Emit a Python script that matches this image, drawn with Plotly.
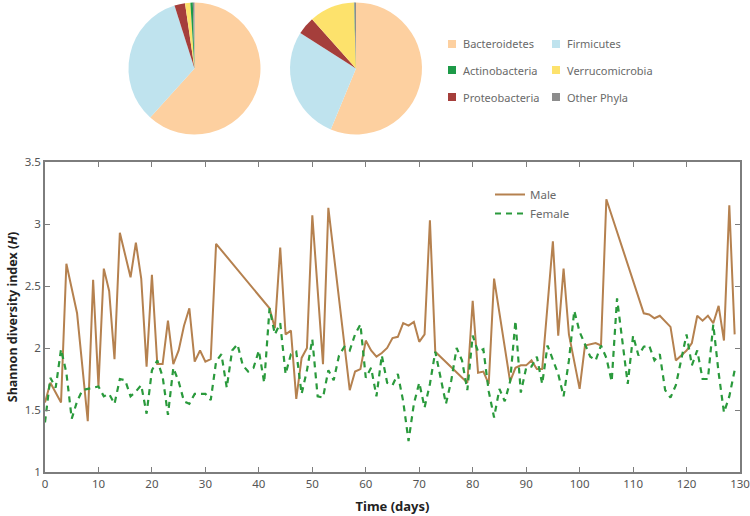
import plotly.graph_objects as go

# ---------------- data ----------------
phyla = ["Bacteroidetes", "Firmicutes", "Proteobacteria", "Verrucomicrobia", "Actinobacteria", "Other Phyla"]
phyla_colors = ["#fdd0a0", "#bfe3ee", "#a53e3b", "#fde26c", "#1d9a48", "#8c8c8c"]
pie_left = [61.7, 33.4, 2.6, 1.3, 0.6, 0.4]
pie_right = [56.3, 27.8, 4.4, 11.1, 0.1, 0.4]

male_days = [0, 1, 3, 4, 5, 6, 8, 9, 10, 11, 12, 13, 14, 16, 17, 18, 19, 20, 21, 22, 23, 24, 25, 26,
             27, 28, 29, 30, 31, 32, 42, 43, 44, 45, 46, 47, 48, 49, 50, 52, 53, 57, 58, 59, 60, 61,
             62, 63, 64, 65, 66, 67, 68, 69, 70, 71, 72, 73, 79, 80, 81, 82, 83, 84, 87, 88, 89, 90,
             91, 92, 93, 95, 96, 97, 98, 100, 101, 103, 104, 105, 112, 113, 114, 115, 117, 118, 120,
             121, 122, 123, 124, 125, 126, 127, 128, 129]
male_h = [1.56, 1.72, 1.56, 2.68, 2.48, 2.28, 1.41, 2.55, 1.69, 2.64, 2.46, 1.91, 2.93, 2.57, 2.85,
          2.56, 1.85, 2.59, 1.87, 1.87, 2.22, 1.87, 1.98, 2.18, 2.32, 1.89, 1.98, 1.89, 1.91, 2.84,
          2.32, 2.16, 2.81, 2.11, 2.14, 1.59, 1.92, 2.00, 3.07, 1.87, 3.13, 1.66, 1.81, 1.83, 2.06,
          1.98, 1.93, 1.96, 2.00, 2.08, 2.09, 2.20, 2.18, 2.21, 2.05, 2.11, 3.03, 1.97, 1.72, 2.38,
          1.80, 1.81, 1.71, 2.56, 1.73, 1.84, 1.86, 1.86, 1.90, 1.83, 1.83, 2.86, 2.10, 2.64, 2.11,
          1.67, 2.02, 2.04, 2.02, 3.20, 2.28, 2.27, 2.24, 2.26, 2.17, 1.90, 1.98, 2.04, 2.26, 2.22,
          2.26, 2.20, 2.34, 2.06, 3.15, 2.11]

female_days = list(range(0, 130))
female_h = [1.40, 1.76, 1.68, 1.99, 1.80, 1.43, 1.57, 1.66, 1.67, 1.68,
            1.69, 1.61, 1.63, 1.55, 1.75, 1.74, 1.61, 1.65, 1.70, 1.47,
            1.82, 1.90, 1.77, 1.46, 1.84, 1.73, 1.57, 1.55, 1.63, 1.63,
            1.63, 1.58, 1.89, 1.95, 1.68, 1.98, 2.03, 1.86, 1.81, 1.84,
            1.98, 1.72, 2.32, 2.11, 2.20, 1.79, 1.95, 1.97, 1.63, 1.82,
            2.07, 1.61, 1.60, 1.82, 1.74, 1.94, 2.01, 1.98, 2.11, 2.19,
            1.76, 1.84, 1.61, 1.94, 1.72, 1.70, 1.79, 1.57, 1.25, 1.55,
            1.72, 1.52, 1.71, 1.97, 1.75, 1.55, 1.74, 2.00, 1.90, 1.66,
            2.10, 1.97, 1.99, 1.65, 1.44, 1.67, 1.57, 1.73, 2.22, 1.64,
            1.84, 1.85, 1.93, 1.71, 2.02, 1.91, 1.79, 1.61, 1.90, 2.30,
            2.13, 2.03, 1.93, 1.90, 2.02, 1.92, 1.73, 2.40, 2.06, 1.71,
            2.10, 1.94, 2.01, 2.02, 1.90, 1.95, 1.66, 1.60, 1.70, 1.92,
            2.11, 1.86, 1.98, 1.75, 1.75, 2.19, 1.80, 1.48, 1.61, 1.82]

x_ticks = list(range(0, 131, 10))
y_ticks = [1, 1.5, 2, 2.5, 3, 3.5]
y_tick_text = ["1", "1.5", "2", "2.5", "3", "3.5"]

# ---------------- layout helpers ----------------
W, H = 750, 516
ML, MR, MT, MB = 45, 10, 0, 44
PW, PH = W - ML - MR, H - MT - MB


def px(x):
    return (x - ML) / PW


def py(y):
    return (H - MB - y) / PH


FONT = "Noto Sans"
GRAY_TXT = "#6a6a6a"
AX = "#7d7d7d"

fig = go.Figure()

# pies
for vals, cx in [(pie_left, 194.5), (pie_right, 356.0)]:
    r = 66
    fig.add_trace(go.Pie(
        labels=phyla, values=vals, sort=False, direction="clockwise", rotation=0,
        marker=dict(colors=phyla_colors, line=dict(width=0)),
        textinfo="none", hoverinfo="label+percent", showlegend=False,
        domain=dict(x=[px(cx - r), px(cx + r)], y=[py(68.5 + r), py(68.5 - r)]),
    ))

# lines
fig.add_trace(go.Scatter(x=male_days, y=male_h, mode="lines", name="Male",
                         line=dict(color="#b5814f", width=2)))
fig.add_trace(go.Scatter(x=female_days, y=female_h, mode="lines", name="Female",
                         line=dict(color="#2a9a3c", width=2.2, dash="6px,5px")))

# pie legend (manual)
legend_items = [("Bacteroidetes", 0, 452, 44), ("Firmicutes", 1, 556, 44),
                ("Actinobacteria", 4, 452, 70), ("Verrucomicrobia", 3, 556, 70),
                ("Proteobacteria", 2, 452, 97), ("Other Phyla", 5, 556, 97)]
shapes = []
annotations = []
for name, ci, x0, yc in legend_items:
    shapes.append(dict(type="rect", xref="paper", yref="paper",
                       x0=px(x0 - 4), x1=px(x0 + 4), y0=py(yc + 4), y1=py(yc - 4),
                       fillcolor=phyla_colors[ci], line=dict(width=0)))
    annotations.append(dict(text=name, xref="paper", yref="paper", x=px(x0 + 9), y=py(yc),
                            xanchor="left", yanchor="middle", showarrow=False,
                            font=dict(family=FONT, size=11, color=GRAY_TXT)))

fig.update_layout(
    width=W, height=H,
    margin=dict(l=ML, r=MR, t=MT, b=MB),
    paper_bgcolor="white", plot_bgcolor="white",
    font=dict(family=FONT, size=12, color="#555555"),
    shapes=shapes, annotations=annotations,
    showlegend=True,
    legend=dict(x=px(490), y=py(180), xanchor="left", yanchor="top",
                bgcolor="rgba(0,0,0,0)", font=dict(family=FONT, size=11.5, color=GRAY_TXT),
                tracegroupgap=0, itemwidth=30),
    xaxis=dict(range=[0, 130], tickvals=x_ticks, ticks="inside", ticklen=5, tickcolor=AX,
               showline=True, linecolor=AX, linewidth=1.5, mirror="ticks", showgrid=False,
               zeroline=False, domain=[0, 1], automargin=False, ticklabeloverflow="allow",
               tickfont=dict(family=FONT, size=11.5, color="#555555"),
               title=dict(text="<b>Time (days)</b>", standoff=12,
                          font=dict(family=FONT, size=13, color="#222222"))),
    yaxis=dict(range=[1, 3.5], tickvals=y_ticks, ticktext=y_tick_text, ticks="inside", ticklen=5,
               tickcolor=AX, showline=True, linecolor=AX, linewidth=1.5, mirror="ticks",
               showgrid=False, zeroline=False, domain=[0, py(162)], automargin=False,
               tickfont=dict(family=FONT, size=11.5, color="#555555"),
               title=dict(text="<b>Shannon diversity index (<i>H</i>)</b>", standoff=4,
                          font=dict(family=FONT, size=12.5, color="#222222"))),
)

fig.write_html("out.html", config={"displayModeBar": False},
               post_script="document.body.style.margin='0px';")
